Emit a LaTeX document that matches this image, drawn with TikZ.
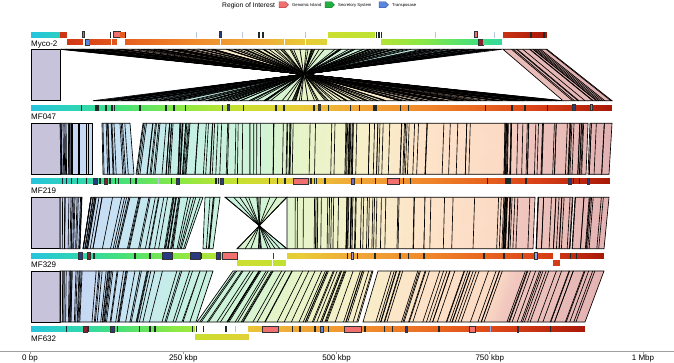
\documentclass[tikz,border=0pt]{standalone}
\usepackage{fontspec}
\setmainfont{Liberation Sans}
\definecolor{g0}{HTML}{26C4DC}\definecolor{g1}{HTML}{30D6B0}\definecolor{g2}{HTML}{44E07A}
\definecolor{g3}{HTML}{8CE844}\definecolor{g4}{HTML}{C8E030}\definecolor{g5}{HTML}{E8CC38}
\definecolor{g6}{HTML}{F0AA38}\definecolor{g7}{HTML}{F08A2C}\definecolor{g8}{HTML}{E86620}
\definecolor{g9}{HTML}{D84018}\definecolor{g10}{HTML}{A81808}
\definecolor{l1}{HTML}{C6D2F2}\definecolor{l2}{HTML}{C6E4F4}\definecolor{l3}{HTML}{C4F0E4}
\definecolor{l4}{HTML}{CFF4D6}\definecolor{l5}{HTML}{E6F4C8}\definecolor{l6}{HTML}{F6F0C8}
\definecolor{l7}{HTML}{FDE4C8}\definecolor{l8}{HTML}{FCDAC4}\definecolor{l9}{HTML}{F0C6BE}
\definecolor{l10}{HTML}{E2B2B2}
\definecolor{lav}{HTML}{C6C3DA}
\definecolor{gi}{HTML}{F07070}\definecolor{gid}{HTML}{A02828}
\definecolor{nav}{HTML}{2A3A80}\definecolor{dred}{HTML}{8A2030}
\definecolor{tk}{HTML}{1E2A2A}\definecolor{ltk}{HTML}{B8C8D8}
\definecolor{sec}{HTML}{22B040}\definecolor{secd}{HTML}{107020}
\definecolor{tp}{HTML}{5A86E0}\definecolor{tpd}{HTML}{2A4A9A}
\definecolor{ptp}{HTML}{A898D8}\definecolor{pur}{HTML}{7868C0}
\definecolor{axc}{HTML}{A0A0A0}
\newcommand\mixc[5]{\pgfmathtruncatemacro\mixt{max(0,min(100,100*(#1-#2)/(#3-#2)))}\colorlet{cc}{#5!\mixt!#4}}
\newcommand\setgc[1]{\pgfmathsetmacro\gcp{#1}%
 \ifdim\gcp pt<80pt \mixc{\gcp}{31}{80}{g0}{g1}\else
 \ifdim\gcp pt<120pt \mixc{\gcp}{80}{120}{g1}{g2}\else
 \ifdim\gcp pt<180pt \mixc{\gcp}{120}{180}{g2}{g3}\else
 \ifdim\gcp pt<240pt \mixc{\gcp}{180}{240}{g3}{g4}\else
 \ifdim\gcp pt<300pt \mixc{\gcp}{240}{300}{g4}{g5}\else
 \ifdim\gcp pt<350pt \mixc{\gcp}{300}{350}{g5}{g6}\else
 \ifdim\gcp pt<420pt \mixc{\gcp}{350}{420}{g6}{g7}\else
 \ifdim\gcp pt<480pt \mixc{\gcp}{420}{480}{g7}{g8}\else
 \ifdim\gcp pt<540pt \mixc{\gcp}{480}{540}{g8}{g9}\else
 \mixc{\gcp}{540}{612}{g9}{g10}\fi\fi\fi\fi\fi\fi\fi\fi\fi}
\newcommand\setlc[1]{\pgfmathsetmacro\gcp{#1}%
 \ifdim\gcp pt<130pt \mixc{\gcp}{60}{130}{l1}{l2}\else
 \ifdim\gcp pt<190pt \mixc{\gcp}{130}{190}{l2}{l3}\else
 \ifdim\gcp pt<260pt \mixc{\gcp}{190}{260}{l3}{l4}\else
 \ifdim\gcp pt<300pt \mixc{\gcp}{260}{300}{l4}{l5}\else
 \ifdim\gcp pt<360pt \mixc{\gcp}{300}{360}{l5}{l6}\else
 \ifdim\gcp pt<420pt \mixc{\gcp}{360}{420}{l6}{l7}\else
 \ifdim\gcp pt<500pt \mixc{\gcp}{420}{500}{l7}{l8}\else
 \ifdim\gcp pt<520pt \mixc{\gcp}{500}{520}{l8}{l9}\else
 \mixc{\gcp}{520}{612}{l9}{l10}\fi\fi\fi\fi\fi\fi\fi\fi}
% gradient bar: x0 x1 ytop p0 p1
\newcommand\gbar[5]{%
 \pgfmathtruncatemacro\gbn{max(1,round(abs(#2-#1)/2))}%
 \foreach \k in {1,...,\gbn}{%
  \pgfmathsetmacro\gxa{#1+(\k-1)/\gbn*(#2-#1)}%
  \pgfmathsetmacro\gxb{#1+\k/\gbn*(#2-#1)}%
  \pgfmathsetmacro\gpm{#4+(\k-0.5)/\gbn*(#5-#4)}%
  \setgc{\gpm}%
  \fill[cc] (\gxa-0.2,#3) rectangle (\gxb+0.2,#3+6);}}
\newcommand\tks[2]{\foreach \tx in {#2}{\fill[tk] (\tx-0.55,#1) rectangle (\tx+0.55,#1+6);}}
\newcommand\ltk[3]{\fill[#3] (#1-0.5,#2) rectangle (#1+0.5,#2+6);}
\newcommand\blk[4]{\filldraw[fill=#4,draw=black!80,line width=0.4pt] (#1,#2) rectangle (#3,#2+6);}
% link: a b c d p0 p1 n
\newcommand\lnkx[7]{%
 \pgfmathtruncatemacro\lkn{max(1,round(abs(#2-#1)/3))}%
 \foreach \k in {1,...,\lkn}{%
  \pgfmathsetmacro\fa{(\k-1)/\lkn}%
  \pgfmathsetmacro\fb{\k/\lkn}%
  \pgfmathsetmacro\lpm{#5+(\k-0.5)/\lkn*(#6-#5)}%
  \setlc{\lpm}%
  \filldraw[fill=cc,draw=cc,line width=0.4pt] ({#1+\fa*(#2-#1)},\yT) -- ({#1+\fb*(#2-#1)},\yT) -- ({#3+\fb*(#4-#3)},\yB) -- ({#3+\fa*(#4-#3)},\yB) -- cycle;}%
 \draw[lkline] (#1,\yT) -- (#2,\yT) -- (#4,\yB) -- (#3,\yB) -- cycle;
 \ifnum#7>0
 \foreach \k in {1,...,#7}{%
  \pgfmathsetmacro\fr{rnd}%
  \draw[lkline] ({#1+\fr*(#2-#1)},\yT) -- ({#3+\fr*(#4-#3)},\yB);}\fi}
\newcommand\lnk[5]{\lnkx{#1}{#2}{#3}{#4}{#1}{#2}{#5}}
\newcommand\lnkb[5]{\lnkx{#1}{#2}{#3}{#4}{#3}{#4}{#5}}
\newcommand\graybox{\filldraw[fill=lav,lkline] (31,\yT) rectangle (60,\yB);}
\begin{document}
\begin{tikzpicture}[x=1pt,y=-1pt,lkline/.style={draw=black,line width=0.65pt},
  lab/.style={anchor=base west,inner sep=0,font=\fontsize{8}{9}\selectfont},
  axl/.style={anchor=base,inner sep=0,font=\fontsize{8}{9}\selectfont},
  legs/.style={anchor=base west,inner sep=0,font=\fontsize{4.2}{5}\selectfont}]
\useasboundingbox (0,0) rectangle (674,363);
\pgfmathsetseed{11}
% ---------- legend
\node[anchor=base west,inner sep=0,font=\fontsize{6.7}{8}\selectfont] (legt) at (222,7.3) {Region of Interest};
\filldraw[fill=gi,draw=gid,line width=0.4pt] (279,1.8)--(285.5,1.8)--(288.5,4.8)--(285.5,7.8)--(279,7.8)--cycle;
\node[legs] (leg1) at (292,6.4) {Genomic Island};
\filldraw[fill=sec,draw=secd,line width=0.4pt] (325,1.8)--(331.5,1.8)--(334.5,4.8)--(331.5,7.8)--(325,7.8)--cycle;
\node[legs] (leg2) at (338,6.4) {Secretory System};
\filldraw[fill=tp,draw=tpd,line width=0.4pt] (379,1.8)--(385.5,1.8)--(388.5,4.8)--(385.5,7.8)--(379,7.8)--cycle;
\node[legs] (leg3) at (392,6.4) {Transposase};
% ---------- band 1 (Myco-2 -> MF047)
\def\yT{49.3}\def\yB{100.7}
\graybox
\lnkb{60}{95}{563}{525.8}{26}
\lnkb{95}{140}{525.8}{478}{20}
\lnkb{140}{200}{478}{414.1}{20}
\lnkb{200}{255}{414.1}{355.7}{18}
\lnkb{255}{300}{355.7}{307.8}{14}
\lnkb{300}{340}{307.8}{265.3}{12}
\lnkb{340}{385}{265.3}{217.4}{22}
\lnkb{385}{430}{217.4}{169.6}{14}
\lnkb{430}{470}{169.6}{127}{14}
\lnkb{470}{502}{127}{93}{14}
\lnkb{503}{547}{563}{612}{14}
% ---------- band 2 (MF047 -> MF219)
\def\yT{123.3}\def\yB{174.3}
\graybox
\lnk{60}{72}{61}{72}{14}
\lnk{72}{92}{72}{92}{4}
\lnk{102}{112}{103}{114}{7}
\lnk{112}{130}{114}{134}{5}
\lnk{143}{160}{136}{155}{8}
\lnk{160}{180}{155}{178}{7}
\lnk{180}{190}{178}{186}{10}
\lnk{190}{250}{186}{250}{14}
\lnk{250}{290}{250}{289}{8}
\lnk{290}{346}{289}{345}{7}
\lnk{346}{353}{345}{352}{9}
\lnk{353}{427}{352}{425}{18}
\lnk{427}{505}{425}{504}{7}
\lnk{505}{511}{504}{510}{8}
\lnk{511}{570}{510}{568}{16}
\lnk{570}{588}{568}{586}{10}
\lnk{590}{612}{588}{609}{5}
% ---------- band 3 (MF219 -> MF329)
\def\yT{197.3}\def\yB{248.7}
\graybox
\lnk{60}{82}{60}{80}{16}
\lnk{91}{130}{83}{118}{18}
\lnk{130}{180}{118}{172}{18}
\lnk{180}{203}{173}{185}{5}
\lnk{205}{220}{203}{213}{4}
\lnk{225}{287}{287}{237}{12}
\lnk{287}{347}{287}{346}{13}
\lnk{347}{353}{346}{352}{8}
\lnk{353}{425}{352}{424}{16}
\lnk{425}{505}{424}{503}{7}
\lnk{505}{510}{503}{508}{7}
\lnk{510}{535}{508}{533}{7}
\lnk{538}{573}{536}{570}{13}
\lnk{575}{609}{572}{604}{10}
% ---------- band 4 (MF329 -> MF632)
\def\yT{271}\def\yB{322}
\graybox
\lnk{60}{80}{60}{78}{16}
\lnk{80}{140}{78}{130}{20}
\lnk{140}{200}{130}{182}{12}
\lnk{200}{213}{183}{196}{1}
\lnk{233}{373}{197}{358}{44}
\lnk{378}{470}{363}{452}{22}
\lnk{470}{604}{452}{585}{30}
% ---------- Myco-2
\gbar{31}{60.5}{31.7}{31}{60}
\gbar{60.5}{67}{31.7}{562}{556}
\blk{82}{31.7}{84}{tp}
\ltk{110.5}{31.7}{tk}
\blk{113.5}{31.7}{120}{gi}
\gbar{120}{125}{31.7}{499}{494}
\ltk{125.6}{31.7}{tk}
\ltk{196.6}{31.7}{ltk}
\blk{219.3}{31.7}{220.9}{nav}
\ltk{242.6}{31.7}{ltk}
\tks{31.7}{259,263}
\ltk{305}{31.7}{g5}
\gbar{328}{375}{31.7}{246}{228}
\tks{31.7}{376.5,379,381.5}
\ltk{435}{31.7}{ltk}
\blk{474}{31.7}{477}{gi}
\ltk{494}{31.7}{ltk}
\gbar{503}{547}{31.7}{563}{612}
\tks{31.7}{531,544}
\gbar{67.5}{82.6}{39.3}{555}{539}
\blk{85.6}{39.3}{89}{tp}
\gbar{89}{110.5}{39.3}{532}{509}
\gbar{112}{117}{39.3}{507}{502}
\gbar{125.6}{220}{39.3}{494}{393}
\gbar{221}{284}{39.3}{392}{325}
\gbar{285}{305}{39.3}{324}{302}
\gbar{306}{327}{39.3}{301}{279}
\gbar{381.5}{478}{39.3}{221}{119}
\blk{478}{39.3}{483}{dred}
\gbar{483}{502}{39.3}{113}{93}
\node[lab] (myco) at (31,46.5) {Myco-2};
% ---------- MF047
\gbar{31}{612}{104.7}{31}{612}
\tks{104.7}{81.7,96,98,106,112,114.3,140,166,174,185.3,222.7,243.7,276,284,314,328.7,350.7,359.3,374,376,400.7,408.7,485.3,512,525,547.3}
\blk{226.7}{104.7}{229.3}{nav}
\blk{318.3}{104.7}{320}{nav}
\blk{571.7}{104.7}{575}{nav}
\blk{590}{104.7}{592}{tp}
\node[lab] (mf047) at (31,119.5) {MF047};
% ---------- MF219
\gbar{31}{609.3}{178.3}{31}{612}
\tks{178.3}{62.7,66.7,71.7,77.3,86.7,100,110,115.3,118.7,130.7,136,171.7,216,218.3,237.3,269.3,277.3,285,311,314.3,316.7,325,361.7,375.7,403.3,410.7,487.3,506,508,510,526,573.3,579.3}
\ltk{158}{178.3}{ltk}
\blk{93.3}{178.3}{97.3}{nav}
\blk{104}{178.3}{107.3}{dred}
\blk{176}{178.3}{179.3}{nav}
\blk{220}{178.3}{223.3}{nav}
\blk{350.7}{178.3}{354}{pur}
\blk{568.3}{178.3}{570.7}{nav}
\blk{587.5}{178.3}{589.2}{nav}
\blk{293.3}{178.3}{308.3}{gi}
\blk{387.3}{178.3}{399.3}{gi}
\node[lab] (mf219) at (31,193.1) {MF219};
% ---------- MF329
\gbar{31}{221.7}{252.7}{31}{222}
\tks{252.7}{82.7,94,135,150,172.7,201.7}
\blk{78.3}{252.7}{81.7}{nav}
\blk{86.7}{252.7}{90}{dred}
\blk{161.7}{252.7}{171.7}{nav}
\blk{190}{252.7}{200}{nav}
\blk{216}{252.7}{220}{nav}
\blk{221.7}{252.7}{236.7}{gi}
\ltk{273}{252.7}{nav}
\gbar{286.7}{552.7}{252.7}{287}{548}
\tks{252.7}{347.3,357.3,375,400,408.3,424,484,504,522.7}
\blk{350.7}{252.7}{352.7}{ptp}
\blk{534}{252.7}{537.3}{tp!70}
\gbar{560}{604}{252.7}{560}{612}
\tks{252.7}{570.7,576.7}
\gbar{236.7}{271.7}{260.2}{250}{238}
\gbar{273.3}{286}{260.2}{237}{230}
\gbar{553.3}{559.3}{260.2}{545}{548}
\node[lab] (mf329) at (31,267.5) {MF329};
% ---------- MF632
\gbar{31}{194.3}{326}{31}{200}
\tks{326}{66.7,88.3,117.3,139.3,150,155,192.7,196.7,203.3,226}
\blk{83.3}{326}{87.3}{dred}
\blk{110}{326}{114}{nav}
\ltk{235}{326}{ltk}
\gbar{195}{248.3}{333.8}{245}{285}
\gbar{248.3}{585}{326}{310}{612}
\tks{326}{292.7,300,315,328.3,365,384.3,392.3,439,550.7}
\blk{261.7}{326}{277.7}{gi}
\blk{344}{326}{360.7}{gi}
\blk{469.3}{326}{475.3}{gi}
\blk{320}{326}{323.3}{tp}
\blk{405}{326}{407.3}{nav}
\ltk{490.7}{326}{tp!70}
\blk{516.7}{326}{518.3}{tp!70}
\node[lab] (mf632) at (31,341) {MF632};
% ---------- axis
\draw[axc,line width=0.8pt] (0,351) -- (674,351);
\foreach \ax in {30,183.25,336.5,489.75,643}{\draw[axc,line width=0.6pt] (\ax,351) -- (\ax,354);}
\node[axl] (a0) at (30,360.5) {0 bp};
\node[axl] (a1) at (183.25,360.5) {250 kbp};
\node[axl] (a2) at (336.5,360.5) {500 kbp};
\node[axl] (a3) at (489.75,360.5) {750 kbp};
\node[axl] (a4) at (643,360.5) {1 Mbp};
\end{tikzpicture}
\end{document}
